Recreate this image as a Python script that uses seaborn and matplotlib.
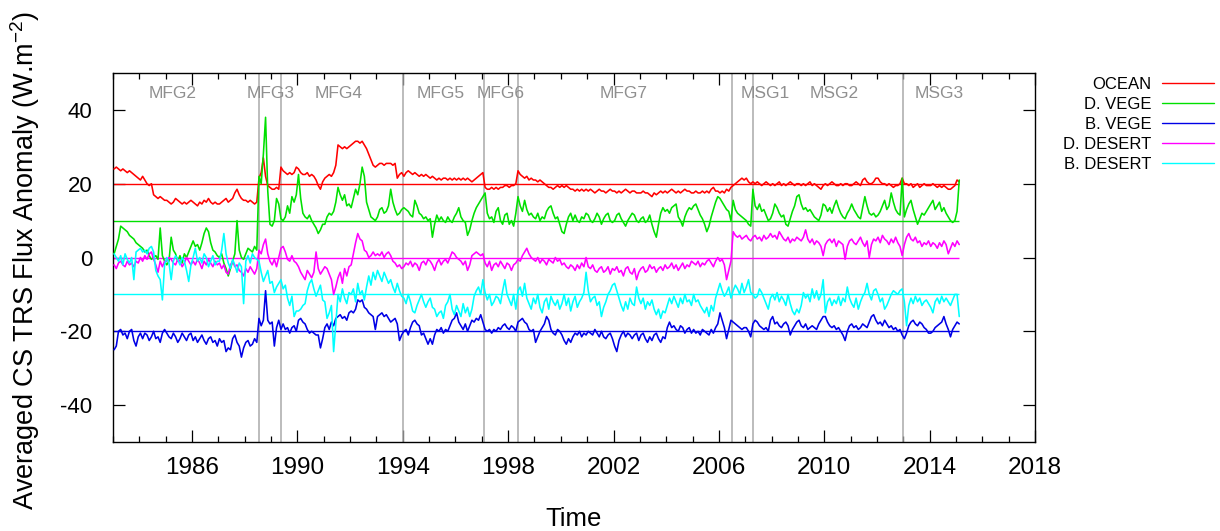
import numpy as np
import pandas as pd
import matplotlib
matplotlib.use("Agg")
import matplotlib.pyplot as plt
import seaborn as sns
from matplotlib.lines import Line2D
from matplotlib.ticker import MultipleLocator, FixedLocator

# Monthly clear-sky TRS flux anomalies (W m-2), Jan 1983 onwards.
# Each series is shifted by its own offset so the curves stack.
start_year = 1983

ocean = [
    24, 24.5, 24, 23.5, 24, 23.5, 23, 23.5, 23, 22.5, 22, 21.5,        # 1983
    21, 22, 21, 20, 19.5, 20, 17, 16.5, 16, 16.5, 16, 15.5,            # 1984
    15.5, 15, 14.5, 15, 16, 15.5, 15, 14.5, 15, 14.5, 15, 15.5,        # 1985
    15, 14.5, 14, 15, 14.5, 15.5, 15, 16, 15, 14.5, 15, 14.5,          # 1986
    14.5, 15, 15.5, 16, 15, 15.5, 16, 17.5, 18.5, 17, 16, 15.5,        # 1987
    15.5, 15, 15.5, 15, 14.5, 15, 21.5, 23, 27, 22, 19.5, 19,          # 1988
    18.5, 18.5, 19, 18.5, 24.5, 23.5, 23, 22.5, 23, 22.5, 23, 24.5,    # 1989
    24, 23, 22.5, 22.5, 23, 22, 22.5, 22, 21, 19.5, 18.5, 20.5,        # 1990
    21.5, 22, 22.5, 22, 23, 25, 30.5, 30, 29.5, 30, 29.5, 30,          # 1991
    30.5, 31, 31.5, 31.5, 31, 31.5, 30.5, 29.5, 28, 26.5, 25, 24.5,    # 1992
    25, 25.5, 25.5, 25, 25.5, 25.5, 25.5, 25, 25.5, 21.5, 22.5, 23,    # 1993
    22, 23, 23.5, 23, 22.5, 23, 22.5, 22, 22.5, 22, 22.5, 22,          # 1994
    21.5, 22, 21.5, 21, 21.5, 21, 21.5, 21.5, 21, 21.5, 21, 21.5,      # 1995
    21, 21.5, 21, 21.5, 21, 21.5, 21, 20.5, 21, 21.5, 22, 22.5,        # 1996
    23, 19, 18.5, 18.5, 19, 18.5, 19, 18.5, 19, 19, 19.5, 19.5,        # 1997
    19, 19.5, 19.5, 20, 23.5, 22.5, 22, 21.5, 22, 21, 21.5, 21,        # 1998
    21, 20.5, 21, 20.5, 20, 19.5, 19, 19, 18.5, 19, 19.5, 19,          # 1999
    19.5, 19, 19.5, 19, 18.5, 18.5, 18, 18.5, 18, 18.5, 18, 18.5,      # 2000
    18, 18.5, 18, 17.5, 18, 18.5, 18, 18, 17.5, 18, 18.5, 18,          # 2001
    18, 17.5, 18, 17.5, 18, 18.5, 18, 17.5, 18, 18, 17.5, 17.5,        # 2002
    17.5, 18, 17.5, 17.5, 17, 16.5, 17.5, 17, 17.5, 18, 17.5, 18,      # 2003
    17.5, 18, 18.5, 18, 17.5, 18, 17.5, 18, 18.5, 18, 18, 17.5,        # 2004
    17.5, 18, 17.5, 17.5, 18, 17.5, 18, 17.5, 18.5, 19, 18, 18,        # 2005
    17.5, 18, 17.5, 18.5, 18, 19, 19.5, 20, 20.5, 21, 21.5, 21,        # 2006
    21.5, 20.5, 20, 20.5, 20, 20.5, 20, 19.5, 20, 20.5, 20, 19.5,      # 2007
    20, 19.5, 20, 20.5, 19.5, 20, 19.5, 20, 20.5, 20, 19.5, 20,        # 2008
    20, 19.5, 20, 19.5, 20, 20.5, 19.5, 20, 19.5, 19, 18.5, 19.5,      # 2009
    20, 19.5, 20, 20.5, 20, 19.5, 19.5, 20, 19.5, 20, 20, 19.5,        # 2010
    19.5, 20, 20.5, 20, 19.5, 21, 21.5, 20.5, 20, 20, 20.5, 21.5,      # 2011
    21.5, 20.5, 20, 20, 19.5, 20, 19.5, 19, 19.5, 19.5, 20, 21.5,      # 2012
    20, 20, 19.5, 20, 19, 19.5, 20, 19, 19.5, 20, 19.5, 19.5,          # 2013
    19.5, 20, 19.5, 19, 19.5, 19, 19.5, 19, 18.5, 18.5, 19, 19.5,      # 2014
    21, 20.5,                                                          # 2015
]

dense_vege = [
    1, 3, 5, 8.5, 8, 7.5, 7, 6, 5.5, 5, 4, 3.5,                        # 1983
    3, 2.5, 1.5, 2, 0.5, -0.5, 0, 0.5, -0.5, 8, 0.5, -1,               # 1984
    -2, -1, 5.5, 2, 1, -1, 0.5, -1.5, 1, 0, 1.5, 3,                    # 1985
    4.5, 3, 3.5, 2, 4, 6.5, 8, 7, 4, 2, 1.5, 0.5,                      # 1986
    0, 1, -1.5, -3, -5, -3, -1, 1, 10, 2, 0, -0.5,                     # 1987
    1, 2.5, 2, 1.5, 3, 2, 22, 20, 28, 38, 18, 9,                       # 1988
    8.5, 10, 16, 14.5, 10.5, 10, 11, 14, 12, 16.5, 15, 17,             # 1989
    22.5, 16, 12, 11, 10.5, 11.5, 10, 9, 8, 6.5, 7.5, 9,               # 1990
    9, 11, 12, 11.5, 12.5, 15, 19, 17, 15.5, 17, 14, 14.5,             # 1991
    13.5, 16, 18.5, 17, 20, 24.5, 22, 15, 13, 11, 10.5, 10,            # 1992
    11, 13, 13.5, 12, 12.5, 14, 18.5, 15, 13, 11.5, 12, 13,            # 1993
    13.5, 13, 12.5, 11.5, 11, 15.5, 14, 12, 11.5, 10.5, 11, 10,        # 1994
    10.5, 5.5, 9, 11.5, 10, 11, 10, 9.5, 11, 10, 9.5, 11,              # 1995
    12, 13.5, 11, 10, 9.5, 6, 7.5, 10, 12, 13.5, 14.5, 15.5,           # 1996
    16.5, 17.5, 12, 10.5, 11, 9.5, 12.5, 13.5, 10, 9, 11.5, 12,        # 1997
    9, 10, 8.5, 12, 16.5, 14, 12.5, 15.5, 13, 11.5, 12, 11,            # 1998
    10.5, 12, 10, 11, 10.5, 12.5, 13.5, 14, 12, 10.5, 11, 9,           # 1999
    7, 6.5, 9, 11, 12, 10, 11.5, 10, 9.5, 11, 10.5, 12,                # 2000
    11.5, 10, 9.5, 10.5, 12, 11, 9, 10.5, 11.5, 12, 10, 9.5,           # 2001
    10, 11.5, 12, 10.5, 9.5, 8.5, 10, 11, 12, 11.5, 10, 9.5,           # 2002
    10.5, 11, 9.5, 10, 11.5, 9, 7, 5.5, 9, 12, 13.5, 12.5,             # 2003
    13, 12, 13.5, 14, 14.5, 11, 10, 8.5, 11, 12.5, 13.5, 13,           # 2004
    14, 14.5, 13, 11.5, 10.5, 9, 7, 8.5, 11, 13, 15, 16.5,             # 2005
    16, 15, 14, 13, 12.5, 10, 15.5, 13, 12, 11.5, 11, 10.5,            # 2006
    10, 9, 8.5, 18.5, 14, 13, 14.5, 12.5, 13, 11.5, 10, 10.5,          # 2007
    12, 14.5, 13.5, 12, 11, 11.5, 9, 8.5, 10.5, 12.5, 14, 16.5,        # 2008
    17, 14.5, 13, 13.5, 12.5, 13, 12, 11, 10.5, 10, 11.5, 14.5,        # 2009
    14, 12.5, 13.5, 12, 14, 15.5, 13.5, 12, 11, 10.5, 12, 13,          # 2010
    14.5, 13, 12, 11, 10.5, 13.5, 16.5, 14, 12, 11.5, 12, 11,          # 2011
    11.5, 12.5, 14, 15.5, 13, 14, 17.5, 15, 13, 12, 11.5, 21.5,        # 2012
    11, 13, 14.5, 15.5, 13, 11, 9, 10.5, 12, 11.5, 12.5, 13.5,         # 2013
    14.5, 15.5, 13, 14, 15, 12.5, 13.5, 12, 11, 10, 9.5, 10,           # 2014
    12.5, 21,                                                          # 2015
]

bright_vege = [
    -25, -24, -20, -19.5, -21, -20.5, -22, -20, -19.5, -22.5, -24, -21.5,      # 1983
    -20.5, -22, -20.5, -21, -22.5, -21.5, -20, -22, -21.5, -23, -20.5, -19.5,  # 1984
    -20.5, -21.5, -22, -20.5, -21.5, -23, -22, -20.5, -21.5, -22.5, -21, -20.5,  # 1985
    -22.5, -21.5, -23, -22, -21, -22.5, -23.5, -22, -21.5, -23, -22.5, -24,    # 1986
    -22, -23, -22.5, -25.5, -24.5, -25, -22, -21, -23, -24, -27, -24.5,        # 1987
    -23, -22.5, -24, -23.5, -22, -23, -16.5, -18.5, -17, -9, -17, -18,         # 1988
    -17.5, -24, -19, -17, -19.5, -18, -19.5, -19, -20.5, -19, -18.5, -20,      # 1989
    -17, -16.5, -17.5, -18, -19.5, -20.5, -20, -20.5, -21, -21, -24.5, -22,    # 1990
    -19, -18, -19.5, -17.5, -18.5, -16.5, -16, -15.5, -16.5, -16, -17, -15,    # 1991
    -14.5, -15, -14, -11.5, -12, -11.5, -13.5, -14, -15, -15.5, -16, -19.5,    # 1992
    -16, -15.5, -15, -16, -15.5, -16.5, -17.5, -17, -16.5, -18, -22.5, -21,    # 1993
    -20, -19.5, -21, -19, -17.5, -17, -18, -18.5, -21, -20.5, -22, -23.5,      # 1994
    -22, -23.5, -21, -19.5, -20, -19, -20.5, -19.5, -20, -18.5, -17, -16.5,    # 1995
    -15, -17.5, -18.5, -19.5, -18, -20, -18.5, -17, -17.5, -16.5, -17, -15.5,  # 1996
    -17.5, -19.5, -20, -19.5, -20.5, -19.5, -20, -19, -19.5, -18.5, -18, -19,  # 1997
    -19.5, -18.5, -19, -20, -17.5, -17, -16.5, -17.5, -18, -19.5, -20, -19.5,  # 1998
    -23, -21.5, -20, -19, -18, -16, -17, -19.5, -20.5, -21, -19.5, -20,        # 1999
    -21, -22.5, -23.5, -22, -23, -21.5, -20.5, -21, -20, -21.5, -20.5, -21,    # 2000
    -20, -20.5, -21, -19.5, -20.5, -21.5, -20, -21.5, -22, -21, -20.5, -22,    # 2001
    -24, -25.5, -22.5, -21, -20, -21.5, -20.5, -21, -22, -21, -20.5, -22.5,    # 2002
    -21, -20.5, -22, -23, -21.5, -22.5, -21, -20.5, -22, -23, -21.5, -22,      # 2003
    -19, -17.5, -19, -18.5, -19.5, -20, -18.5, -19, -20.5, -19.5, -19, -20.5,  # 2004
    -19.5, -20.5, -20, -21, -19.5, -20, -20.5, -21, -19.5, -20.5, -19, -18,    # 2005
    -15, -17, -19, -22, -19.5, -17, -17.5, -18, -18.5, -19, -19.5, -19,        # 2006
    -19, -20, -21.5, -18, -17, -17.5, -18.5, -19, -19.5, -19, -20, -17,        # 2007
    -16, -18, -17.5, -18.5, -19, -18, -17.5, -18.5, -21, -19.5, -18.5, -17.5,  # 2008
    -17, -18.5, -19, -18, -19.5, -19, -18.5, -19, -19.5, -18, -17, -16,        # 2009
    -16, -17.5, -18.5, -19, -18.5, -19.5, -19, -20, -21, -22.5, -20, -18.5,    # 2010
    -18, -19, -18.5, -19.5, -19, -18, -18.5, -19, -17.5, -16, -15.5, -17,      # 2011
    -18, -17.5, -18.5, -17, -18, -19, -18.5, -19.5, -19, -20, -19.5, -21,      # 2012
    -22, -20.5, -18.5, -17.5, -17, -18, -18.5, -17.5, -18, -19, -19.5, -20.5,  # 2013
    -20.5, -20, -19, -18.5, -18, -17.5, -16, -18, -19.5, -21.5, -19.5, -18.5,  # 2014
    -17.5, -18,                                                                # 2015
]

dark_desert = [
    -2, -3, -1.5, -1, -2, -2.5, -1, -2, -1.5, -2.5, -1, -1.5,          # 1983
    0, -1, 0.5, -0.5, 1, 1.5, -0.5, -2, -4, -1, -2.5, -1,              # 1984
    -1, 0, -0.5, -1.5, -2, -0.5, -1, -2.5, -1.5, 0, -1, -2,            # 1985
    -1, -2, -0.5, -1.5, -3, -1, -2, -0.5, -1.5, -2.5, -1, -2,          # 1986
    -1.5, -3, -2, -4, -4.5, -2, -1, -2.5, -2, -3.5, -4, -5,            # 1987
    -3, -4, -2.5, -3.5, -4.5, -3, 2, 1, 3.5, 5, 1, -1,                 # 1988
    -2, -0.5, -2.5, 0, 2.5, 3, 1.5, -0.5, -1, 0.5, -1, -1.5,           # 1989
    -2.5, -4, -5, -6, -3.5, -4.5, -5.5, -4, 1.5, -3, -4.5, -3.5,       # 1990
    -2.5, -3, -4.5, -6, -10, -8, -5.5, -4, -7, -3, -5, -2.5,           # 1991
    -2, 1, 4, 6.5, 5, 4.5, 2, 1.5, 0, 0.5, 1.5, 0.5,                   # 1992
    1, 0.5, 1.5, 0, 1, 1.5, 0.5, -1, -1.5, -2.5, -2, -3,               # 1993
    -2.5, -1.5, -2, -1, -2.5, -1.5, -2, -3.5, -1.5, -1, -2, -0.5,      # 1994
    -1, -2, -3.5, -1.5, -0.5, -2, -1, -0.5, -1.5, 0, 1.5, 1,           # 1995
    0, -0.5, -1, -2, -1, -3.5, -2, 0.5, 1, 1.5, 1, 0.5,                # 1996
    1, -1.5, -2.5, -1, -3.5, -2, -1.5, -2.5, -1, -2, -3, -1.5,         # 1997
    -2, -3.5, -2, -1.5, -0.5, -1, 0.5, 1.5, 2.5, 1, 0, -0.5,           # 1998
    -1, 0, -1.5, -0.5, -1, -2, -0.5, -1, -1.5, 0, -1, -0.5,            # 1999
    -2, -1.5, -2.5, -3, -2, -2.5, -3.5, -2, -3, -1.5, -2.5, 0,         # 2000
    -2.5, -3, -2, -3.5, -4, -3, -2.5, -4, -3.5, -2.5, -4.5, -3,        # 2001
    -3.5, -2.5, -4, -3.5, -5, -3, -2.5, -4, -4.5, -3, -6, -4,          # 2002
    -3, -2.5, -4, -3.5, -2, -3, -2.5, -4, -3, -2.5, -3.5, -2,          # 2003
    -3, -2.5, -1.5, -3, -2, -3.5, -2.5, -1.5, -3, -2, -2.5, -1,        # 2004
    -1.5, -2, -1, -2.5, -1.5, -2, -1, -0.5, -1.5, -2.5, -1, 0,         # 2005
    -1, -0.5, -2, -6, -3.5, -1, 7, 6, 5.5, 6, 5, 5.5,                  # 2006
    6, 5, 4.5, 5.5, 6, 5, 5.5, 4.5, 6, 5, 5.5, 6.5,                    # 2007
    5.5, 6, 5, 7, 6, 5, 4.5, 5.5, 4, 5, 4.5, 5.5,                      # 2008
    5, 4.5, 5.5, 7.5, 5, 4, 5, 3.5, 4.5, 4, 3, 0.5,                    # 2009
    3.5, 4.5, 5, 4, 5, 3, 4.5, 4, 3.5, -0.5, 3, 4.5,                   # 2010
    5, 4, 3.5, 4.5, 5.5, 4, 3, 4.5, 0, 3.5, 5, 4.5,                    # 2011
    5.5, 4, 6, 5, 4.5, 3.5, 5, 4, 5.5, 4, 3, 0.5,                      # 2012
    3.5, 5.5, 6.5, 5, 4.5, 5.5, 4, 4.5, 3, 4, 3.5, 4.5,                # 2013
    3, 4, 3.5, 2.5, 4, 3, 4.5, 3.5, 1, 2.5, 4, 3,                      # 2014
    4.5, 3.5,                                                          # 2015
]

bright_desert = [
    1, 0, -1, 0.5, -2, 1, -0.5, -1.5, 0, -6, 1.5, 2,                           # 1983
    2.5, 1.5, 2, 1, 2.5, 3, 1.5, -3.5, -5, -6, -11.5, -2,                      # 1984
    0, -1.5, -6, -1, 0.5, -0.5, -2, 0, -1, -3.5, -6.5, -2,                     # 1985
    0, 2.5, -1, 0, -1.5, 1, 0, -2.5, -1, 0.5, -2, -1,                          # 1986
    -1, 2, 6.5, 1, -1.5, -3, -0.5, -2, -4, -1.5, -2.5, -12.5,                  # 1987
    -1, 0.5, -1.5, 1, 0, -0.5, -1, -4, -6.5, -5, -3.5, -7,                     # 1988
    -6.5, -9.5, -8, -7, -6, -8.5, -7.5, -11, -13, -10.5, -16, -14.5,           # 1989
    -14.5, -14, -13, -12.5, -9, -7, -6, -8.5, -10.5, -9, -7.5, -11.5,          # 1990
    -12, -16.5, -15, -13, -25.5, -18, -10, -12, -8.5, -11, -12.5, -9.5,        # 1991
    -10, -8.5, -12, -7, -10, -9, -11.5, -8, -5, -7.5, -4, -6,                  # 1992
    -3.5, -5, -6.5, -4, -5.5, -7, -6, -8, -9.5, -7, -9, -10.5,                 # 1993
    -11, -12.5, -10, -12, -14.5, -15, -13, -11.5, -10, -12, -13.5, -12,        # 1994
    -11, -13.5, -14, -16, -15, -14.5, -16.5, -13, -12, -10, -14, -15.5,        # 1995
    -13, -14.5, -16, -12.5, -15, -13.5, -16, -14, -10.5, -9, -8, -10,          # 1996
    -6, -9.5, -11.5, -10, -13, -12, -10.5, -11, -12.5, -9, -6, -10,            # 1997
    -11.5, -13, -10, -14, -9, -8, -10.5, -7, -11, -12.5, -14, -11,             # 1998
    -12.5, -10, -13.5, -15, -12, -11, -14, -10.5, -12, -13, -11.5, -14,        # 1999
    -12.5, -10, -13, -11, -14.5, -12, -10.5, -13.5, -12, -11, -9.5, -4,        # 2000
    -9, -12, -11, -10.5, -13, -12, -16, -13.5, -12, -10, -9, -7.5,             # 2001
    -7, -9, -11, -13, -14.5, -12, -14, -11, -12.5, -13, -8, -11,               # 2002
    -12.5, -11, -14, -12, -13, -11.5, -14, -15.5, -14, -16.5, -14.5, -15,      # 2003
    -13, -11, -12.5, -10.5, -12, -13.5, -11, -12.5, -10, -12, -11.5, -13,      # 2004
    -10, -12, -11.5, -13, -14, -15, -13.5, -16, -13, -14.5, -11, -9,           # 2005
    -7, -9, -10.5, -9.5, -8, -11, -9, -7.5, -8.5, -10, -7, -9.5,               # 2006
    -8, -6, -9.5, -10, -11, -10.5, -8.5, -9.5, -11, -12.5, -14, -11,           # 2007
    -10, -11.5, -9.5, -12, -10.5, -11.5, -13, -10, -12.5, -14.5, -15.5, -14,   # 2008
    -15, -13, -9.5, -11, -10, -12, -8.5, -11, -9, -11.5, -10, -6,              # 2009
    -15, -12, -11, -13, -11.5, -12.5, -10.5, -13, -11, -12, -8, -11,           # 2010
    -12.5, -13.5, -11, -14, -12, -10.5, -9.5, -7, -10, -11.5, -9, -8.5,        # 2011
    -10, -12, -11, -14, -13, -11.5, -10, -9, -9.5, -10, -9, -8.5,              # 2012
    -12, -18.5, -13, -11, -12.5, -10.5, -12, -11, -13, -12, -11.5, -12.5,      # 2013
    -13.5, -15, -12, -11, -12.5, -10.5, -12, -11, -12, -13, -11.5, -10,        # 2014
    -10, -16,                                                                  # 2015
]

surface_names = ["OCEAN", "D. VEGE", "B. VEGE", "D. DESERT", "B. DESERT"]
surface_series = [ocean, dense_vege, bright_vege, dark_desert, bright_desert]
surface_offsets = [20, 10, -20, 0, -10]
surface_colors = ["#ff0000", "#00e000", "#0000e6", "#ff00ff", "#00ffff"]

# Satellite changeovers and the instrument names shown between them
changeover_years = [1988.54, 1989.37, 1994.02, 1997.08, 1998.36, 2006.48, 2007.29, 2012.98]
instrument_names = ["MFG2", "MFG3", "MFG4", "MFG5", "MFG6", "MFG7", "MSG1", "MSG2", "MSG3"]
instrument_label_x = [1985.27, 1988.97, 1991.58, 1995.45, 1997.72, 2002.4, 2007.77, 2010.39, 2014.37]

year_ticks = list(range(1986, 2019, 4))
value_ticks = [-40, -20, 0, 20, 40]

# ---- long-form table ----
frames = []
for name, vals in zip(surface_names, surface_series):
    t = start_year + (np.arange(len(vals)) + 0.5) / 12.0
    frames.append(pd.DataFrame({"time": t, "anomaly": vals, "surface": name}))
df = pd.concat(frames, ignore_index=True)

sns.set_style("ticks")
plt.rcParams["font.family"] = ["Liberation Sans", "DejaVu Sans"]
plt.rcParams["axes.unicode_minus"] = False
for key in ("text.color", "axes.labelcolor", "xtick.color", "ytick.color",
            "xtick.labelcolor", "ytick.labelcolor"):
    plt.rcParams[key] = "black"

W, H = 1220, 531
fig = plt.figure(figsize=(W / 100, H / 100), dpi=100)
ax = fig.add_axes([113 / W, 1 - 442 / H, (1035 - 113) / W, (442 - 73) / H])

for yr in changeover_years:
    ax.axvline(yr, color="#a9a9a9", lw=1.1, zorder=1)

# offset reference line of each series, spanning its record
for name, off, col in zip(surface_names, surface_offsets, surface_colors):
    sub = df[df["surface"] == name]
    ax.hlines(off, sub["time"].min() - 0.04, sub["time"].max(), color=col, lw=1.0, zorder=2)

sns.lineplot(data=df, x="time", y="anomaly", hue="surface", hue_order=surface_names,
             palette=dict(zip(surface_names, surface_colors)), estimator=None,
             sort=False, lw=1.15, legend=False, ax=ax, zorder=3)

for name, xpos in zip(instrument_names, instrument_label_x):
    ax.text(xpos, 44.4, name, ha="center", va="center", color="#8f8f8f", fontsize=12.5)

ax.set_xlim(1983, 2018)
ax.set_ylim(-50, 50)
ax.xaxis.set_major_locator(FixedLocator(year_ticks))
ax.xaxis.set_minor_locator(MultipleLocator(1))
ax.yaxis.set_major_locator(FixedLocator(value_ticks))
ax.tick_params(which="both", direction="in", top=True, right=True, color="black", width=0.9)
ax.tick_params(which="major", length=8.6)
ax.tick_params(which="minor", length=4.3)
ax.tick_params(axis="x", labelsize=17.5, pad=11)
ax.tick_params(axis="y", labelsize=16, pad=15)
for sp in ax.spines.values():
    sp.set_linewidth(1.0)
    sp.set_color("black")

ax.set_xlabel("Time", fontsize=18.5)
ax.xaxis.label.set_va("center")
ax.xaxis.set_label_coords(0.5, (442 - 519) / 369)
ax.set_ylabel(r"Averaged CS TRS Flux Anomaly (W.m$^{\mathregular{-2}}$)", fontsize=19.5)
ax.yaxis.label.set_va("center")
ax.yaxis.set_label_coords((25 - 113) / 922, (442 - 260) / 369)

handles = [Line2D([], [], color=c, lw=1.0) for c in surface_colors]
ax.legend(handles, surface_names, loc="upper right",
          bbox_to_anchor=(1214 / W, 1 - 77 / H), bbox_transform=fig.transFigure,
          frameon=False, markerfirst=False, fontsize=12, handlelength=3.1,
          handletextpad=0.65, labelspacing=0.3, borderpad=0, borderaxespad=0)

fig.savefig("out.png", dpi=100)
